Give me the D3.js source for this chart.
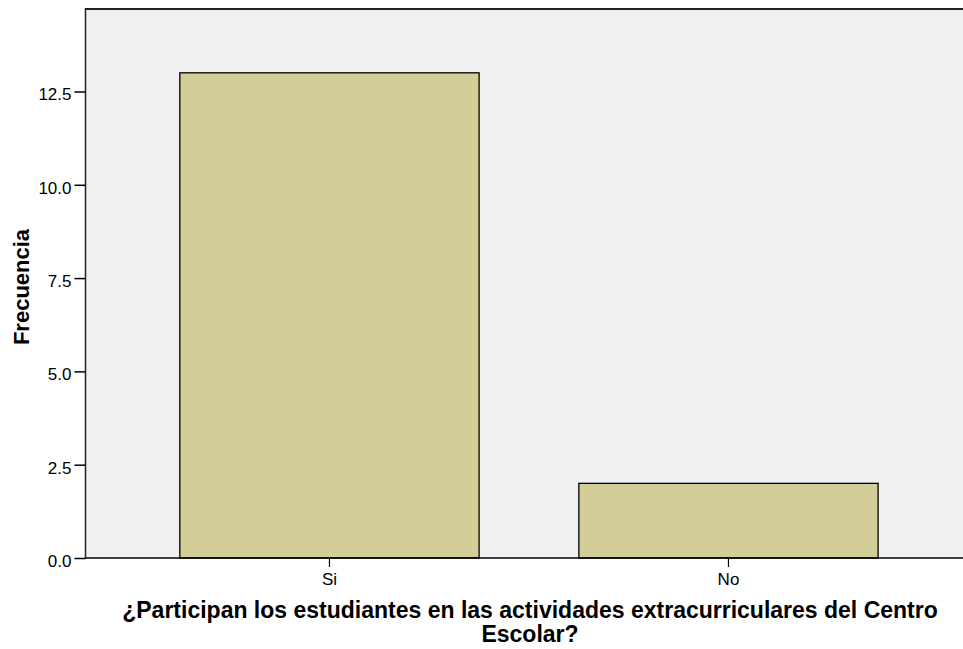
<!DOCTYPE html>
<html>
<head>
<meta charset="utf-8">
<script src="https://cdn.jsdelivr.net/npm/d3@7"></script>
<style>
  html, body { margin: 0; padding: 0; background: #ffffff; }
  svg { display: block; }
  text { font-family: "Liberation Sans", Arial, sans-serif; fill: #000; }
</style>
</head>
<body>
<script>
const categories = ["Si", "No"];
const frequencies = [13, 2];
const yTicks = [0, 2.5, 5, 7.5, 10, 12.5];
const yMax = 14.71;
const xTitleLines = ["¿Participan los estudiantes en las actividades extracurriculares del Centro", "Escolar?"];
const yTitle = "Frecuencia";

const W = 963, H = 649;
const plot = { left: 86, right: 963, top: 9, bottom: 558 };

const svg = d3.select("body").append("svg").attr("width", W).attr("height", H);

const x = d3.scaleBand()
  .domain(categories)
  .range([plot.left, plot.right])
  .paddingInner(0.25)
  .paddingOuter(0.224)
  .align(0.525);

const y = d3.scaleLinear().domain([0, yMax]).range([plot.bottom, plot.top]);

// background
svg.append("rect")
  .attr("x", plot.left).attr("y", plot.top)
  .attr("width", plot.right - plot.left).attr("height", plot.bottom - plot.top)
  .attr("fill", "#f0f0f0");

// bars
svg.selectAll("rect.bar")
  .data(categories.map((c, i) => ({ c, v: frequencies[i] })))
  .join("rect")
  .attr("class", "bar")
  .attr("x", d => x(d.c))
  .attr("y", d => y(d.v))
  .attr("width", x.bandwidth())
  .attr("height", d => y(0) - y(d.v))
  .attr("fill", "#d3ce97")
  .attr("stroke", "#000")
  .attr("stroke-width", 1.3);

// frame: top and left
svg.append("line")
  .attr("x1", plot.left - 0.5).attr("x2", plot.right)
  .attr("y1", plot.top).attr("y2", plot.top)
  .attr("stroke", "#222").attr("stroke-width", 2);
svg.append("line")
  .attr("x1", plot.left - 0.5).attr("x2", plot.left - 0.5)
  .attr("y1", plot.top - 1).attr("y2", plot.bottom)
  .attr("stroke", "#222").attr("stroke-width", 1.5);

// y axis
const yAxis = d3.axisLeft(y)
  .tickValues(yTicks)
  .tickFormat(d3.format(".1f"))
  .tickSize(11)
  .tickPadding(3);
const gy = svg.append("g")
  .attr("transform", `translate(${plot.left - 0.5},0)`)
  .call(yAxis);
gy.select(".domain").remove();
gy.selectAll(".tick line").attr("stroke", "#000").attr("stroke-width", 1.5);
gy.selectAll(".tick text")
  .attr("font-size", 17)
  .attr("font-family", "Liberation Sans, Arial, sans-serif")
  .attr("dy", "0.5em");

// x axis
const xAxis = d3.axisBottom(x).tickSize(9).tickPadding(6);
const gx = svg.append("g")
  .attr("transform", `translate(0,${plot.bottom})`)
  .call(xAxis);
gx.select(".domain").remove();
gx.selectAll(".tick line").attr("stroke", "#000").attr("stroke-width", 1.2);
gx.selectAll(".tick text")
  .attr("font-size", 17)
  .attr("font-family", "Liberation Sans, Arial, sans-serif");

// bottom axis line
svg.append("line")
  .attr("x1", plot.left - 1).attr("x2", plot.right)
  .attr("y1", plot.bottom).attr("y2", plot.bottom)
  .attr("stroke", "#000").attr("stroke-width", 1.6);

// x title
const xt = svg.append("text")
  .attr("text-anchor", "middle")
  .attr("font-size", 23)
  .attr("font-weight", "bold");
xTitleLines.forEach((line, i) => {
  xt.append("tspan").attr("x", 530).attr("y", 618 + i * 24).text(line);
});

// y title
svg.append("text")
  .attr("transform", `translate(29,287) rotate(-90)`)
  .attr("text-anchor", "middle")
  .attr("font-size", 22)
  .attr("font-weight", "bold")
  .text(yTitle);
</script>
</body>
</html>
